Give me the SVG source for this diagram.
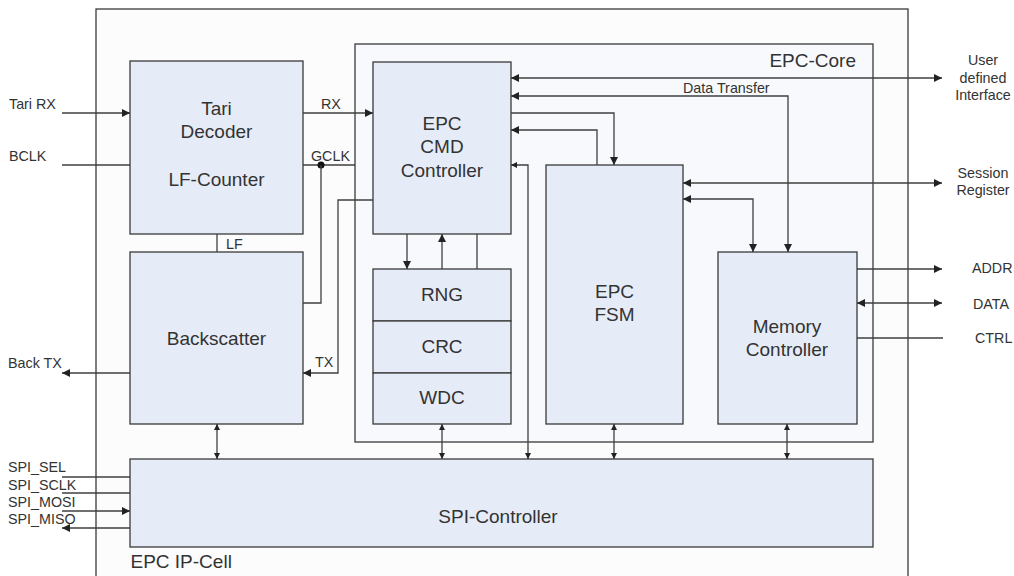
<svg xmlns="http://www.w3.org/2000/svg" width="1014" height="576" viewBox="0 0 1014 576">
<defs>
<style>
.box{fill:#e6ecf7;stroke:#3a3a3a;stroke-width:1.3}
.c{fill:none;stroke:#3f3f3f;stroke-width:1.3}
.big{font-family:"Liberation Sans",Arial,sans-serif;font-size:19px;fill:#333;text-anchor:middle}
.sm{font-family:"Liberation Sans",Arial,sans-serif;font-size:14.3px;fill:#333}
.mid{text-anchor:middle}
</style>
<marker id="a" viewBox="0 0 10 10" refX="10" refY="5" markerWidth="9" markerHeight="8" markerUnits="userSpaceOnUse" orient="auto-start-reverse"><path d="M0,0L10,5L0,10z" fill="#222"/></marker>
<marker id="s" viewBox="0 0 10 10" refX="10" refY="5" markerWidth="6" markerHeight="6" markerUnits="userSpaceOnUse" orient="auto-start-reverse"><path d="M0,0L10,5L0,10z" fill="#222"/></marker>
</defs>
<rect width="1014" height="576" fill="#ffffff"/>
<g id="ipcell">
<rect x="96" y="9" width="812" height="590" fill="#fcfcfd" stroke="#3a3a3a" stroke-width="1.3"/>
<text class="big" x="130.5" y="568" style="text-anchor:start">EPC IP-Cell</text>
</g>
<g id="epccore">
<rect x="355" y="44" width="518" height="398" fill="#f7f9fc" stroke="#3a3a3a" stroke-width="1.3"/>
<text class="big" x="856" y="67" style="text-anchor:end">EPC-Core</text>
</g>
<g id="tari">
<rect class="box" x="130" y="61" width="173" height="173"/>
<text class="big" x="216.5" y="115">Tari</text>
<text class="big" x="216.5" y="138">Decoder</text>
<text class="big" x="216.5" y="186">LF-Counter</text>
</g>
<g id="backscatter">
<rect class="box" x="130" y="252" width="173" height="172"/>
<text class="big" x="216.5" y="345">Backscatter</text>
</g>
<g id="cmd">
<rect class="box" x="373" y="62" width="138" height="172"/>
<text class="big" x="442" y="130">EPC</text>
<text class="big" x="442" y="153">CMD</text>
<text class="big" x="442" y="177">Controller</text>
</g>
<g id="rng">
<rect class="box" x="373" y="269" width="138" height="52"/>
<text class="big" x="442" y="301">RNG</text>
</g>
<g id="crc">
<rect class="box" x="373" y="321" width="138" height="52"/>
<text class="big" x="442" y="353">CRC</text>
</g>
<g id="wdc">
<rect class="box" x="373" y="373" width="138" height="51"/>
<text class="big" x="442" y="404">WDC</text>
</g>
<g id="fsm">
<rect class="box" x="546" y="165" width="137" height="259"/>
<text class="big" x="614.5" y="298">EPC</text>
<text class="big" x="614.5" y="321">FSM</text>
</g>
<g id="mem">
<rect class="box" x="718" y="252" width="139" height="172"/>
<text class="big" x="787" y="333">Memory</text>
<text class="big" x="787" y="356">Controller</text>
</g>
<g id="spi">
<rect class="box" x="130" y="459" width="743" height="88"/>
<text class="big" x="498" y="523">SPI-Controller</text>
</g>
<g id="connectors">
<path class="c" d="M62,113H130" marker-end="url(#a)"/>
<path class="c" d="M62,165H130"/>
<path class="c" d="M303,113H373" marker-end="url(#a)"/>
<path class="c" d="M303,165H355"/>
<circle cx="321" cy="165" r="3.5" fill="#111"/>
<path class="c" d="M321,165V303H303"/>
<path class="c" d="M373,200H338V373H303" marker-end="url(#a)"/>
<path class="c" d="M130,373H62" marker-end="url(#a)"/>
<path class="c" d="M217,234V252"/>
<path class="c" d="M407,234V269" marker-end="url(#a)"/>
<path class="c" d="M442,269V234" marker-end="url(#a)"/>
<path class="c" d="M477,234V269"/>
<path class="c" d="M511,78H942" marker-start="url(#a)" marker-end="url(#a)"/>
<path class="c" d="M511,96H788V252" marker-start="url(#a)" marker-end="url(#a)"/>
<path class="c" d="M511,113H614V165" marker-end="url(#a)"/>
<path class="c" d="M597,165V130H511" marker-end="url(#a)"/>
<path class="c" d="M511,165H528V459" marker-start="url(#s)" marker-end="url(#s)"/>
<path class="c" d="M683,183H942" marker-start="url(#a)" marker-end="url(#a)"/>
<path class="c" d="M683,199H753V252" marker-start="url(#a)" marker-end="url(#a)"/>
<path class="c" d="M857,269H942" marker-end="url(#a)"/>
<path class="c" d="M857,303H942" marker-start="url(#a)" marker-end="url(#a)"/>
<path class="c" d="M857,338H943"/>
<path class="c" d="M62,477H130"/>
<path class="c" d="M62,493H130"/>
<path class="c" d="M62,511H130" marker-end="url(#a)"/>
<path class="c" d="M130,528H62" marker-end="url(#a)"/>
<path class="c" d="M217,424V459" marker-start="url(#s)" marker-end="url(#s)"/>
<path class="c" d="M442,424V459" marker-start="url(#s)" marker-end="url(#s)"/>
<path class="c" d="M614,424V459" marker-start="url(#s)" marker-end="url(#s)"/>
<path class="c" d="M787,424V459" marker-start="url(#s)" marker-end="url(#s)"/>
</g>
<g id="labels">
<text class="sm" x="9" y="109">Tari RX</text>
<text class="sm" x="9" y="161">BCLK</text>
<text class="sm" x="321" y="109">RX</text>
<text class="sm" x="311" y="161">GCLK</text>
<text class="sm" x="226" y="249">LF</text>
<text class="sm" x="315" y="367">TX</text>
<text class="sm" x="8" y="368">Back TX</text>
<text class="sm" x="683" y="93">Data Transfer</text>
<text class="sm mid" x="983" y="65">User</text>
<text class="sm mid" x="983" y="83">defined</text>
<text class="sm mid" x="983" y="100">Interface</text>
<text class="sm mid" x="983" y="178">Session</text>
<text class="sm mid" x="983" y="195">Register</text>
<text class="sm" x="972" y="273">ADDR</text>
<text class="sm" x="973" y="309">DATA</text>
<text class="sm" x="975" y="343">CTRL</text>
<text class="sm" x="8" y="472">SPI_SEL</text>
<text class="sm" x="8" y="490">SPI_SCLK</text>
<text class="sm" x="8" y="507">SPI_MOSI</text>
<text class="sm" x="8" y="524">SPI_MISO</text>
</g>
</svg>
